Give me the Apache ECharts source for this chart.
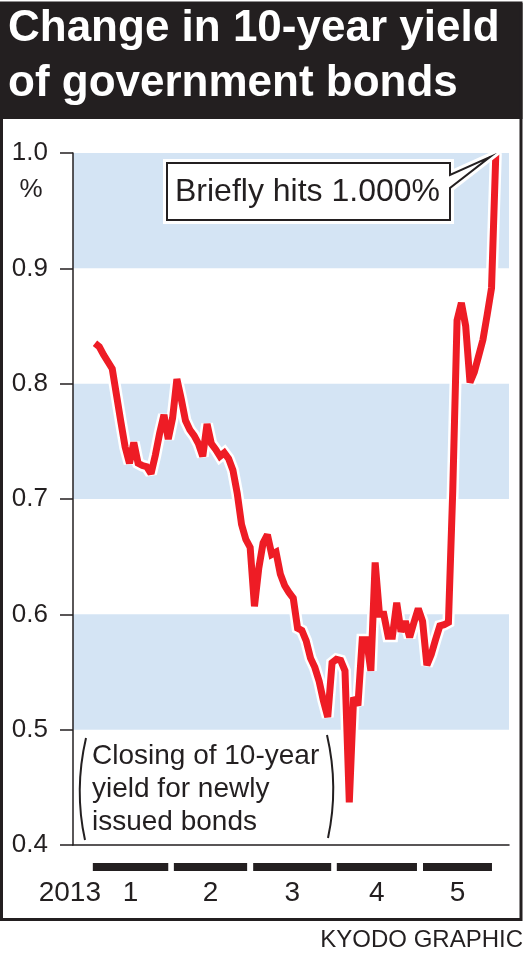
<!DOCTYPE html>
<html><head><meta charset="utf-8">
<script src="https://cdn.jsdelivr.net/npm/echarts@6/dist/echarts.min.js"></script>
<style>html,body{margin:0;padding:0;background:#fff}#c{width:527px;height:953px}</style>
</head><body><div id="c"></div>
<script>
// ---- data ----
const titleLines = ['Change in 10-year yield', 'of government bonds'];
const unitLabel = '%';
const yMin = 0.4, yMax = 1.0, yStep = 0.1;
const bands = [[0.5, 0.6], [0.7, 0.8], [0.9, 1.0]];
// closing yield per trading day, 2013 (Jan 4 .. May 23)
const yields = [
  0.835, 0.832, 0.825, 0.819, 0.813, 0.790, 0.767, 0.745, 0.731, 0.749,
  0.731, 0.729, 0.728, 0.722, 0.738, 0.757, 0.773, 0.752, 0.770, 0.804,
  0.787, 0.768, 0.760, 0.755, 0.748, 0.737, 0.765, 0.748, 0.743, 0.737,
  0.740, 0.735, 0.725, 0.705, 0.678, 0.665, 0.658, 0.607, 0.640, 0.662,
  0.669, 0.652, 0.654, 0.635, 0.625, 0.619, 0.614, 0.588, 0.586, 0.577,
  0.562, 0.554, 0.542, 0.525, 0.511, 0.558, 0.561, 0.560, 0.551, 0.437,
  0.528, 0.521, 0.578, 0.578, 0.551, 0.645, 0.600, 0.600, 0.581, 0.581,
  0.610, 0.585, 0.594, 0.580, 0.593, 0.605, 0.594, 0.556, 0.565, 0.578,
  0.590, 0.591, 0.593, 0.707, 0.855, 0.870, 0.850, 0.801, 0.810, 0.824,
  0.838, 0.860, 0.883, 1.000
];
const yearLabel = '2013';
const monthLabels = ['1', '2', '3', '4', '5'];
// month bars in trading-day units [start, end]
const monthSpans = [[-0.5, 17], [18.3, 35.3], [36.7, 54.8], [56.1, 74.7], [76.1, 92.1]];
const noteText = ['Closing of 10-year', 'yield for newly', 'issued bonds'];
const calloutText = 'Briefly hits 1.000%';
const creditText = 'KYODO GRAPHIC';

// ---- chart ----
const INK = '#231f20', RED = '#ee1c25', BAND = '#d4e4f4';
const FF = "'Liberation Sans', Arial, Helvetica, sans-serif";
const xMin = -5.1, xMax = 96.05;
const chart = echarts.init(document.getElementById('c'), null, {renderer: 'canvas'});
const lineData = yields.map((v, i) => [i, v]);

chart.setOption({
  animation: false,
  backgroundColor: '#fff',
  grid: [
    {left: 73, top: 153, width: 436, height: 692},
    {left: 73, top: 863, width: 436, height: 8}
  ],
  xAxis: [
    {type: 'value', gridIndex: 0, min: xMin, max: xMax, z: 10,
     axisLine: {show: true, onZero: false, lineStyle: {color: INK, width: 1.5}},
     axisTick: {show: false}, axisLabel: {show: false}, splitLine: {show: false}},
    {type: 'value', gridIndex: 1, min: xMin, max: xMax, show: false}
  ],
  yAxis: [
    {type: 'value', gridIndex: 0, min: yMin, max: yMax, interval: yStep, z: 10,
     axisLine: {show: true, onZero: false, lineStyle: {color: INK, width: 1.5}},
     axisTick: {show: true, inside: false, length: 13, lineStyle: {color: INK, width: 1.5}},
     axisLabel: {show: true, margin: 25, color: INK, fontSize: 26, fontFamily: FF,
       formatter: v => v.toFixed(1)},
     splitLine: {show: false}},
    {type: 'value', gridIndex: 1, min: 0, max: 1, show: false}
  ],
  series: [
    {type: 'line', name: 'halo', xAxisIndex: 0, yAxisIndex: 0, data: lineData,
     symbol: 'none', silent: true, z: 2,
     lineStyle: {color: '#ffffff', width: 12, join: 'miter', miterLimit: 2},
     markArea: {silent: true, itemStyle: {color: BAND},
       data: bands.map(b => [{yAxis: b[0]}, {yAxis: b[1]}])}},
    {type: 'line', name: 'yield', xAxisIndex: 0, yAxisIndex: 0, data: lineData,
     symbol: 'none', silent: true, z: 3,
     lineStyle: {color: RED, width: 7, join: 'miter', miterLimit: 2}},
    {type: 'custom', name: 'months', xAxisIndex: 1, yAxisIndex: 1, clip: false, silent: true,
     data: monthSpans.map((s, i) => [s[0], s[1], i]),
     renderItem: function (params, api) {
       const p0 = api.coord([api.value(0), 1]);
       const p1 = api.coord([api.value(1), 0]);
       const idx = api.value(2);
       return {type: 'group', children: [
         {type: 'rect', shape: {x: p0[0], y: p0[1], width: p1[0] - p0[0], height: p1[1] - p0[1]},
          style: {fill: INK}},
         {type: 'text', x: (p0[0] + p1[0]) / 2, y: p1[1] + 22,
          style: {text: monthLabels[idx], font: '28px ' + FF, fill: INK, align: 'center', verticalAlign: 'middle'}}
       ]};
     }}
  ]
});

// annotations anchored to the data scale
const last = chart.convertToPixel({seriesIndex: 1}, [yields.length - 1, yields[yields.length - 1]]);
const tip = [last[0] - 6, last[1] + 4];
const bx0 = 167, by0 = 163, bx1 = 450, by1 = 220;
const calloutPts = [[bx0, by0], [bx1, by0], [bx1, 175], tip, [bx1, 188], [bx1, by1], [bx0, by1]];

chart.setOption({
  graphic: [
    {type: 'rect', z: 50, shape: {x: 0, y: 3, width: 522.5, height: 116}, style: {fill: INK}},
    {type: 'text', z: 51, x: 8, y: 29, style: {text: titleLines[0], font: 'bold 44px ' + FF, fill: '#fff', align: 'left', verticalAlign: 'middle'}},
    {type: 'text', z: 51, x: 8, y: 84, style: {text: titleLines[1], font: 'bold 44px ' + FF, fill: '#fff', align: 'left', verticalAlign: 'middle'}},
    {type: 'rect', z: 52, shape: {x: 1.5, y: 3, width: 519.5, height: 916.5}, style: {fill: null, stroke: INK, lineWidth: 3}},
    {type: 'text', z: 51, x: 31, y: 190, style: {text: unitLabel, font: '26px ' + FF, fill: INK, align: 'center', verticalAlign: 'middle'}},
    {type: 'text', z: 51, x: 101, y: 893, style: {text: yearLabel, font: '28px ' + FF, fill: INK, align: 'right', verticalAlign: 'middle'}},
    {type: 'text', z: 51, x: 92, y: 740, style: {text: noteText.join('\n'), font: '28px ' + FF, lineHeight: 33, fill: INK, align: 'left', verticalAlign: 'top'}},
    {type: 'bezierCurve', z: 51, shape: {x1: 86, y1: 738, cpx1: 74, cpy1: 790, x2: 85, y2: 840}, style: {stroke: INK, lineWidth: 2, fill: null}},
    {type: 'bezierCurve', z: 51, shape: {x1: 327, y1: 735, cpx1: 339, cpy1: 787, x2: 328, y2: 838}, style: {stroke: INK, lineWidth: 2, fill: null}},
    {type: 'polygon', z: 60, shape: {points: calloutPts}, style: {fill: '#fff', stroke: '#fff', lineWidth: 8}},
    {type: 'polygon', z: 61, shape: {points: calloutPts}, style: {fill: '#fff', stroke: INK, lineWidth: 2}},
    {type: 'text', z: 62, x: 175, y: 192, style: {text: calloutText, font: '32px ' + FF, fill: INK, align: 'left', verticalAlign: 'middle'}},
    {type: 'text', z: 51, x: 523, y: 940, style: {text: creditText, font: '24px ' + FF, fill: INK, align: 'right', verticalAlign: 'middle'}}
  ]
});
</script>
</body></html>
